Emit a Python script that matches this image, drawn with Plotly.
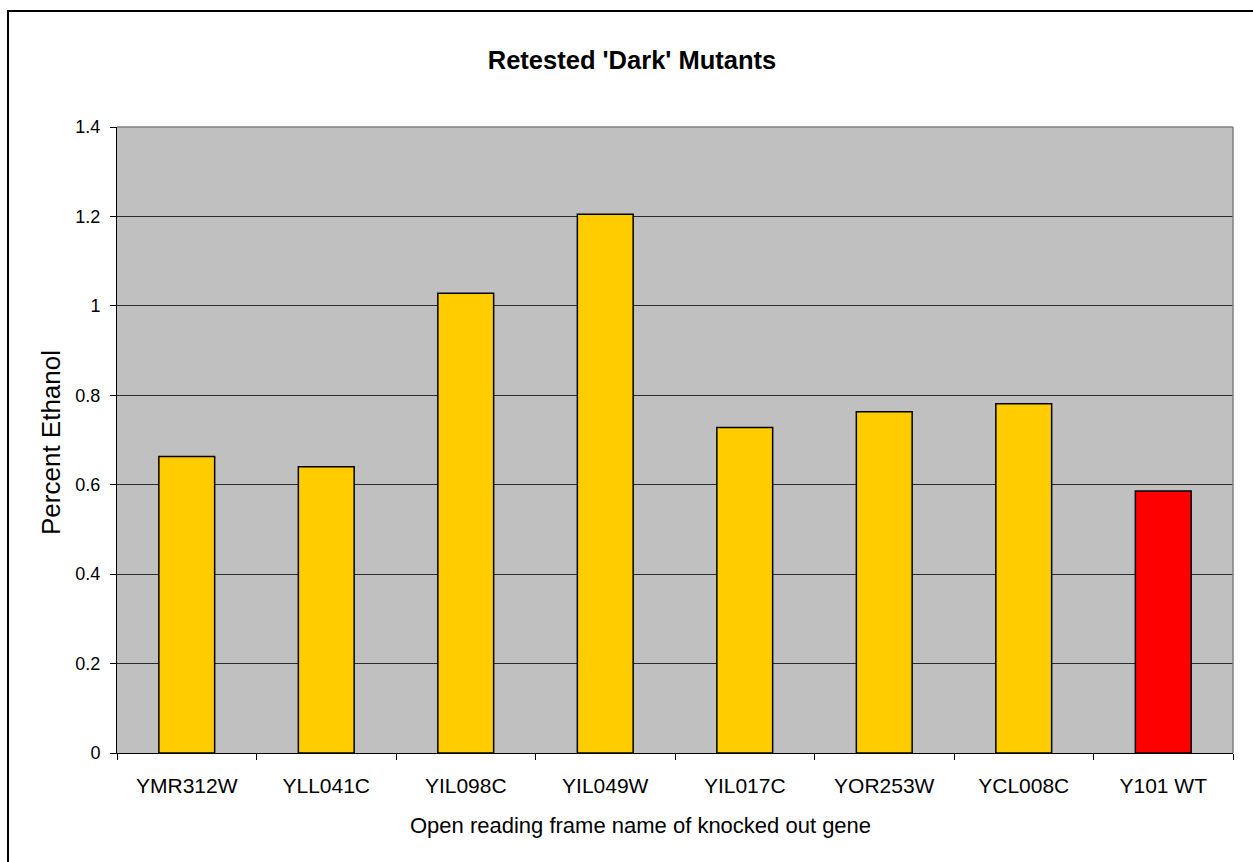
import plotly.graph_objects as go

# ---- data ----
orf_names = ["YMR312W", "YLL041C", "YIL098C", "YIL049W", "YIL017C",
             "YOR253W", "YCL008C", "Y101 WT"]
percent_ethanol = [0.663, 0.640, 1.028, 1.205, 0.728, 0.763, 0.781, 0.586]
y_tick_values = [0, 0.2, 0.4, 0.6, 0.8, 1.0, 1.2, 1.4]
y_tick_labels = ["0", "0.2", "0.4", "0.6", "0.8", "1", "1.2", "1.4"]
chart_title = "Retested 'Dark' Mutants"
x_title = "Open reading frame name of knocked out gene"
y_title = "Percent Ethanol"

# ---- styles ----
MUTANT_COLOR = "#FFCC00"
WT_COLOR = "#FF0000"
bar_colors = [WT_COLOR if "WT" in n else MUTANT_COLOR for n in orf_names]
FONT = "Arial, 'Liberation Sans', sans-serif"

W, H = 1253, 862
L, R, T, B = 117, 20, 127, 109
pw, ph = W - L - R, H - T - B

def px_to_paper_x(px):
    return (px - L) / pw

def px_to_paper_y(py):
    return (H - B - py) / ph

fig = go.Figure()
fig.add_trace(go.Bar(
    x=orf_names, y=percent_ethanol,
    marker=dict(color=bar_colors, line=dict(color="black", width=1.5)),
    hoverinfo="x+y",
))

fig.update_layout(
    width=W, height=H,
    margin=dict(l=L, r=R, t=T, b=B),
    paper_bgcolor="white",
    plot_bgcolor="#C0C0C0",
    bargap=0.6,
    showlegend=False,
    font=dict(family=FONT, color="black"),
    title=dict(
        text="<b>" + chart_title + "</b>",
        font=dict(family=FONT, size=25.5, color="black"),
        x=632 / W, xref="container", xanchor="center",
        y=1 - 60 / H, yref="container", yanchor="middle",
    ),
    xaxis=dict(
        type="category",
        showgrid=False,
        showline=True, linecolor="black", linewidth=1,
        ticks="outside", ticklen=6, tickcolor="black", tickwidth=1,
        tickson="boundaries",
        tickfont=dict(size=21, family=FONT),
        ticklabelstandoff=14,
        zeroline=False,
    ),
    yaxis=dict(
        range=[0, 1.4],
        tickvals=y_tick_values, ticktext=y_tick_labels,
        showgrid=True, gridcolor="#2a2a2a", gridwidth=1,
        showline=True, linecolor="black", linewidth=1,
        ticks="outside", ticklen=6, tickcolor="black", tickwidth=1,
        tickfont=dict(size=18, family=FONT),
        ticklabelstandoff=6,
        zeroline=False,
    ),
    annotations=[
        dict(text=x_title, xref="paper", yref="paper",
             x=px_to_paper_x(640), y=px_to_paper_y(825),
             xanchor="center", yanchor="middle", showarrow=False,
             font=dict(size=22, family=FONT, color="black")),
        dict(text=y_title, xref="paper", yref="paper",
             x=px_to_paper_x(51), y=px_to_paper_y(443),
             xanchor="center", yanchor="middle", showarrow=False,
             textangle=-90,
             font=dict(size=26, family=FONT, color="black")),
    ],
    shapes=[
        # gray plot-area border (top & right)
        dict(type="line", xref="paper", yref="paper", x0=0, x1=1, y0=1, y1=1,
             line=dict(color="#808080", width=1.5), layer="above"),
        dict(type="line", xref="paper", yref="paper", x0=1, x1=1, y0=0, y1=1,
             line=dict(color="#808080", width=1.5), layer="above"),
        # outer chart border (extends beyond the image on right/bottom)
        dict(type="rect", xref="paper", yref="paper",
             x0=px_to_paper_x(8), x1=px_to_paper_x(W + 10),
             y0=px_to_paper_y(H + 10), y1=px_to_paper_y(11),
             line=dict(color="black", width=2), fillcolor="rgba(0,0,0,0)",
             layer="above"),
    ],
)

fig.write_html("out.html")
